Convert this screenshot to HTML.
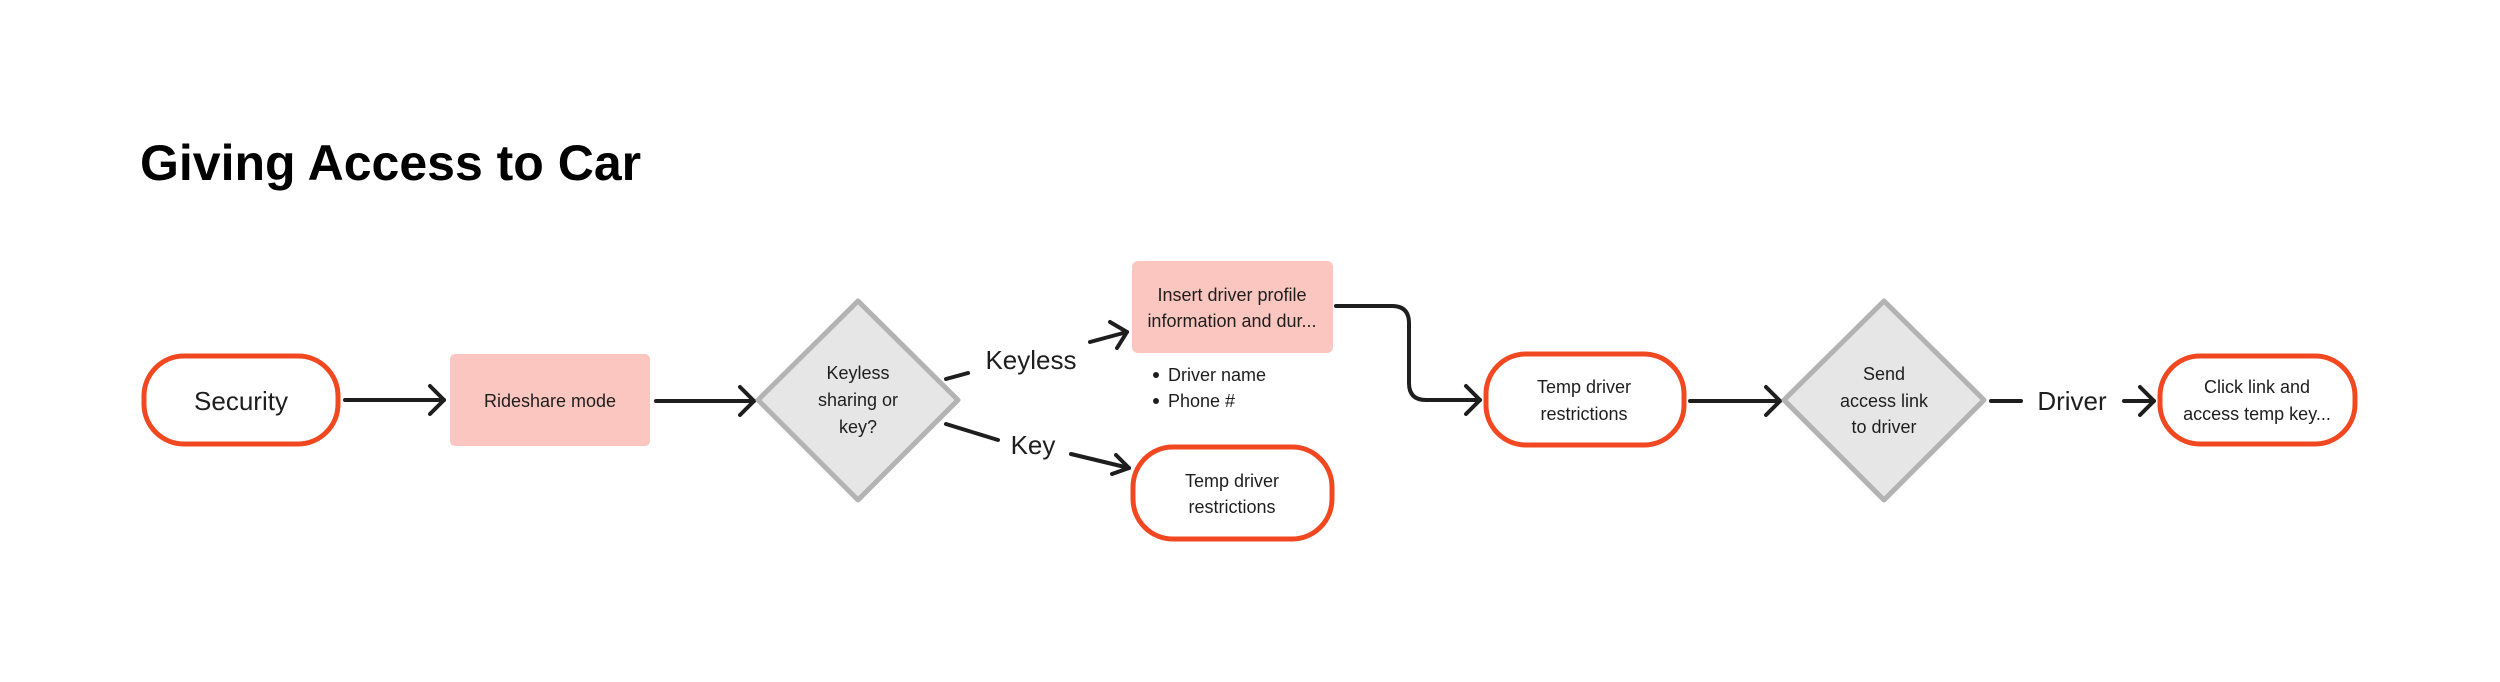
<!DOCTYPE html>
<html><head><meta charset="utf-8"><style>
html,body{margin:0;padding:0;background:#fff;}
svg{display:block;font-family:"Liberation Sans",Arial,sans-serif;}
</style></head><body>
<svg width="2500" height="682" viewBox="0 0 2500 682" xmlns="http://www.w3.org/2000/svg">
<rect width="2500" height="682" fill="#fff"/>
<text x="140" y="180" font-size="50" font-weight="bold" fill="#000">Giving Access to Car</text>

<g fill="none" stroke="#1e1e1e" stroke-width="4" stroke-linecap="round" stroke-linejoin="round">
  <!-- security -> rideshare -->
  <line x1="345" y1="400" x2="444" y2="400"/><polyline points="430,386 444,400 430,414"/>
  <!-- rideshare -> diamond -->
  <line x1="656" y1="401" x2="754" y2="401"/><polyline points="740,387 754,401 740,415"/>
  <!-- keyless -->
  <line x1="946" y1="379" x2="968" y2="373"/>
  <line x1="1090" y1="342" x2="1127" y2="332"/><polyline points="1110,322 1127,332 1117,348"/>
  <!-- key -->
  <line x1="946" y1="424" x2="998" y2="440"/>
  <line x1="1071" y1="454" x2="1129" y2="468"/><polyline points="1116,455 1129,468 1112,474"/>
  <!-- insert -> temp2 -->
  <path d="M1336,306 L1392,306 Q1409,306 1409,323 L1409,383 Q1409,400 1426,400 L1480,400"/>
  <polyline points="1466,386 1480,400 1466,414"/>
  <!-- temp2 -> diamond2 -->
  <line x1="1690" y1="401" x2="1780" y2="401"/><polyline points="1766,387 1780,401 1766,415"/>
  <!-- driver -->
  <line x1="1991" y1="401" x2="2021" y2="401"/>
  <line x1="2124" y1="401" x2="2154" y2="401"/><polyline points="2140,387 2154,401 2140,415"/>
</g>

<!-- nodes -->
<rect x="144" y="356" width="194" height="88" rx="40" fill="#fff" stroke="#f24822" stroke-width="5"/>
<rect x="450" y="354" width="200" height="92" rx="5" fill="#fcc6c0"/>
<polygon points="858,301 958,400 858,500 758,400" fill="#e6e6e6" stroke="#b3b3b3" stroke-width="5" stroke-linejoin="round"/>
<rect x="1132" y="261" width="201" height="92" rx="6" fill="#fcc6c0"/>
<rect x="1133" y="447" width="199" height="92" rx="40" fill="#fff" stroke="#f24822" stroke-width="5"/>
<rect x="1486" y="354" width="198" height="91" rx="40" fill="#fff" stroke="#f24822" stroke-width="5"/>
<polygon points="1884,301 1984,400 1884,500 1784,400" fill="#e6e6e6" stroke="#b3b3b3" stroke-width="5" stroke-linejoin="round"/>
<rect x="2160" y="356" width="195" height="88" rx="40" fill="#fff" stroke="#f24822" stroke-width="5"/>

<g fill="#1e1e1e" text-anchor="middle" font-size="18">
  <text x="241" y="410" font-size="26">Security</text>
  <text x="550" y="407">Rideshare mode</text>
  <text x="858" y="379">Keyless</text>
  <text x="858" y="406">sharing or</text>
  <text x="858" y="433">key?</text>
  <text x="1031" y="369" font-size="26">Keyless</text>
  <text x="1033" y="454" font-size="26">Key</text>
  <text x="1232" y="301">Insert driver profile</text>
  <text x="1232" y="327">information and dur...</text>
  <text x="1232" y="487">Temp driver</text>
  <text x="1232" y="513">restrictions</text>
  <text x="1584" y="393">Temp driver</text>
  <text x="1584" y="420">restrictions</text>
  <text x="1884" y="380">Send</text>
  <text x="1884" y="407">access link</text>
  <text x="1884" y="433">to driver</text>
  <text x="2072" y="410" font-size="26">Driver</text>
  <text x="2257" y="393">Click link and</text>
  <text x="2257" y="420">access temp key...</text>
</g>
<g fill="#1e1e1e" font-size="18">
  <circle cx="1156" cy="375" r="3"/>
  <text x="1168" y="381">Driver name</text>
  <circle cx="1156" cy="401" r="3"/>
  <text x="1168" y="407">Phone #</text>
</g>
</svg>
</body></html>
